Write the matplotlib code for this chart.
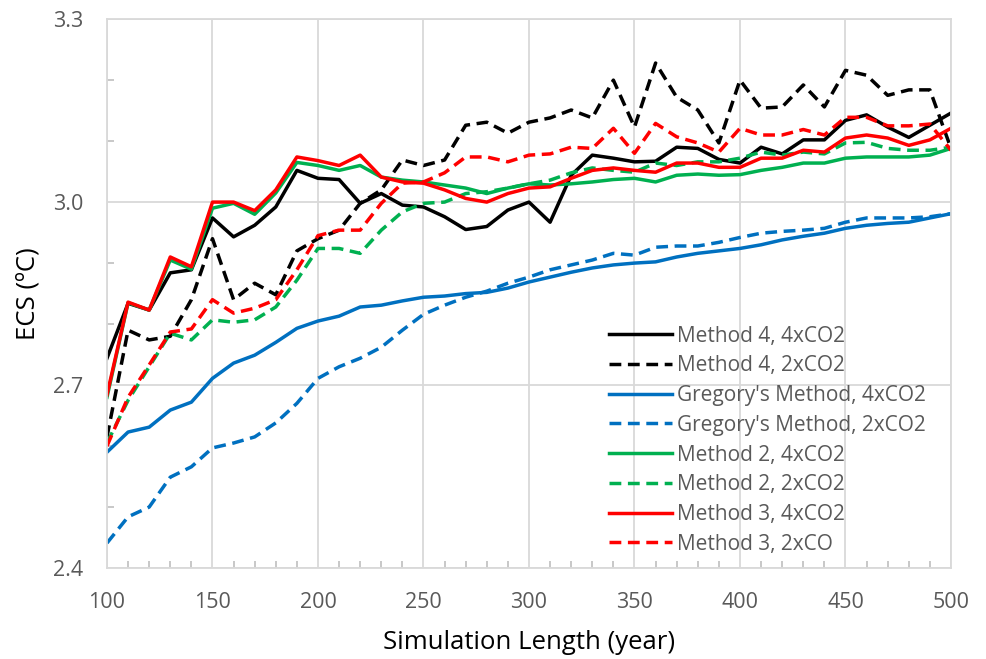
import matplotlib
matplotlib.use("Agg")
import matplotlib.pyplot as plt
from matplotlib.ticker import MultipleLocator
import numpy as np

plt.rcParams['font.family'] = ['Open Sans', 'DejaVu Sans']

# simulation length (years), one value every 10 years
years = np.arange(100, 501, 10)

m4_4x = [2.744, 2.834, 2.823, 2.884, 2.889, 2.974, 2.943, 2.962, 2.992, 3.052,
         3.039, 3.037, 2.998, 3.014, 2.995, 2.992, 2.976, 2.955, 2.960, 2.987,
         3.000, 2.967, 3.044, 3.077, 3.072, 3.066, 3.067, 3.090, 3.088, 3.070,
         3.064, 3.090, 3.079, 3.102, 3.102, 3.134, 3.143, 3.123, 3.106, 3.126,
         3.146]
m4_2x = [2.615, 2.790, 2.774, 2.780, 2.840, 2.940, 2.840, 2.867, 2.848, 2.920,
         2.940, 2.954, 2.998, 3.020, 3.069, 3.060, 3.069, 3.126, 3.131, 3.113,
         3.131, 3.138, 3.151, 3.138, 3.200, 3.123, 3.228, 3.172, 3.151, 3.097,
         3.200, 3.154, 3.156, 3.192, 3.156, 3.216, 3.208, 3.175, 3.184, 3.184,
         3.088]
greg_4x = [2.590, 2.623, 2.631, 2.659, 2.672, 2.711, 2.736, 2.749, 2.770, 2.793,
           2.805, 2.813, 2.828, 2.831, 2.838, 2.844, 2.846, 2.850, 2.852, 2.859,
           2.869, 2.877, 2.885, 2.892, 2.897, 2.900, 2.902, 2.910, 2.916, 2.920,
           2.924, 2.930, 2.938, 2.944, 2.949, 2.957, 2.962, 2.965, 2.967, 2.974,
           2.981]
greg_2x = [2.441, 2.484, 2.500, 2.549, 2.566, 2.597, 2.605, 2.615, 2.638, 2.670,
           2.711, 2.730, 2.744, 2.762, 2.790, 2.816, 2.831, 2.844, 2.854, 2.867,
           2.877, 2.889, 2.897, 2.905, 2.916, 2.913, 2.926, 2.928, 2.928, 2.934,
           2.942, 2.949, 2.952, 2.954, 2.957, 2.967, 2.974, 2.974, 2.974, 2.976,
           2.981]
m2_4x = [2.680, 2.835, 2.823, 2.905, 2.890, 2.990, 2.998, 2.980, 3.015, 3.065,
         3.060, 3.052, 3.060, 3.041, 3.036, 3.033, 3.028, 3.023, 3.014, 3.023,
         3.030, 3.028, 3.030, 3.033, 3.037, 3.039, 3.033, 3.044, 3.046, 3.044,
         3.045, 3.052, 3.057, 3.064, 3.064, 3.072, 3.074, 3.074, 3.074, 3.077,
         3.088]
m2_2x = [2.605, 2.675, 2.730, 2.785, 2.774, 2.807, 2.803, 2.807, 2.828, 2.872,
         2.924, 2.924, 2.916, 2.954, 2.984, 2.998, 3.000, 3.014, 3.017, 3.023,
         3.030, 3.036, 3.048, 3.056, 3.052, 3.049, 3.064, 3.060, 3.066, 3.066,
         3.072, 3.082, 3.077, 3.082, 3.079, 3.097, 3.098, 3.088, 3.085, 3.085,
         3.090]
m3_4x = [2.684, 2.836, 2.823, 2.910, 2.894, 3.000, 3.000, 2.986, 3.020, 3.074,
         3.068, 3.060, 3.077, 3.041, 3.033, 3.031, 3.020, 3.006, 3.000, 3.014,
         3.023, 3.025, 3.039, 3.052, 3.056, 3.052, 3.049, 3.064, 3.064, 3.057,
         3.057, 3.072, 3.072, 3.085, 3.082, 3.105, 3.110, 3.105, 3.093, 3.102,
         3.121]
m3_2x = [2.600, 2.680, 2.733, 2.787, 2.792, 2.840, 2.818, 2.826, 2.840, 2.889,
         2.945, 2.954, 2.954, 2.998, 3.031, 3.033, 3.048, 3.074, 3.074, 3.066,
         3.077, 3.079, 3.090, 3.088, 3.121, 3.080, 3.129, 3.107, 3.097, 3.082,
         3.121, 3.110, 3.110, 3.119, 3.110, 3.139, 3.139, 3.125, 3.125, 3.128,
         3.085]

series = [
    ("Method 4, 4xCO2", m4_4x, "black", "-"),
    ("Method 4, 2xCO2", m4_2x, "black", "--"),
    ("Gregory's Method, 4xCO2", greg_4x, "#0070C0", "-"),
    ("Gregory's Method, 2xCO2", greg_2x, "#0070C0", "--"),
    ("Method 2, 4xCO2", m2_4x, "#00B050", "-"),
    ("Method 2, 2xCO2", m2_2x, "#00B050", "--"),
    ("Method 3, 4xCO2", m3_4x, "#FF0000", "-"),
    ("Method 3, 2xCO", m3_2x, "#FF0000", "--"),
]

fig = plt.figure(figsize=(9.86, 6.59), dpi=100)
ax = fig.add_axes([0.1085, 0.138, 0.856, 0.833])

for label, vals, color, ls in series:
    line, = ax.plot(years, vals, color=color, linestyle=ls, linewidth=2.5,
                    label=label, solid_joinstyle='round')
    if ls == "--":
        line.set_dashes((3.4, 1.9))

ax.set_xlim(100, 500)
ax.set_ylim(2.4, 3.3)
ax.xaxis.set_major_locator(MultipleLocator(50))
ax.xaxis.set_minor_locator(MultipleLocator(10))
ax.yaxis.set_major_locator(MultipleLocator(0.3))
ax.yaxis.set_minor_locator(MultipleLocator(0.1))
ax.yaxis.set_major_formatter(plt.FormatStrFormatter('%.1f'))

ax.grid(which='major', color='#D9D9D9', linewidth=1.3)
ax.set_axisbelow(True)
for sp in ax.spines.values():
    sp.set_color('#D9D9D9')
    sp.set_linewidth(1.3)

ax.tick_params(which='major', length=0, labelsize=15.5, labelcolor='#595959', pad=17)
ax.tick_params(which='minor', direction='in', length=5, width=1.2, color='#BFBFBF')

ax.set_xlabel("Simulation Length (year)", fontsize=18.5, color='black')
ax.set_ylabel("ECS (ºC)", fontsize=18.5, color='black')
ax.xaxis.set_label_coords(0.5, -0.112)
ax.yaxis.set_label_coords(-0.079, 0.5)

leg = ax.legend(loc='upper left', bbox_to_anchor=(0.585, 0.457), frameon=False,
                fontsize=15, handlelength=3.0, handletextpad=0.25,
                labelspacing=0.42, borderaxespad=0)
for txt in leg.get_texts():
    txt.set_color('#595959')

fig.savefig("out.png", dpi=100)
